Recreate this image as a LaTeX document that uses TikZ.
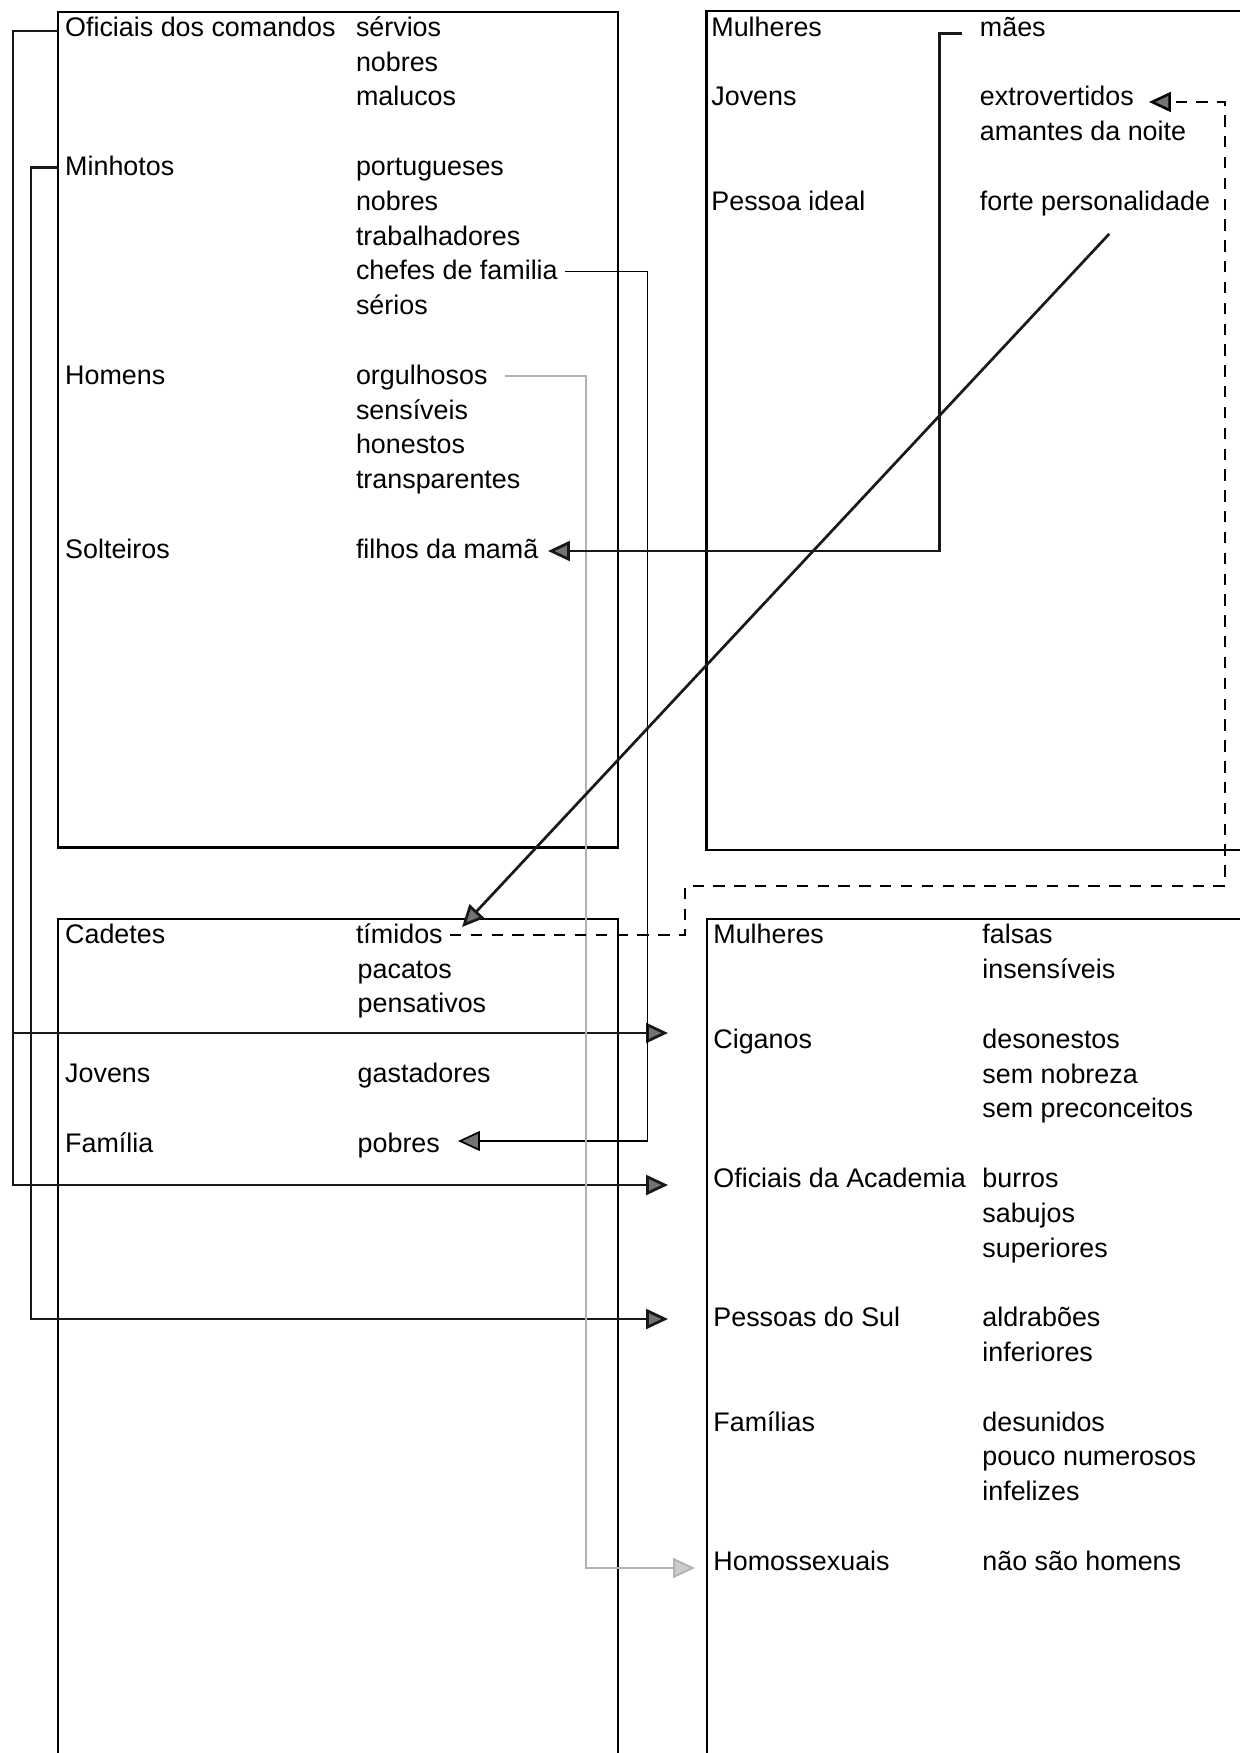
\documentclass[tikz,border=0pt]{standalone}
\usepackage{fontspec}
\setmainfont{Liberation Sans}
\usetikzlibrary{arrows.meta,calc}
\begin{document}
\begin{tikzpicture}[x=0.48pt,y=-0.48pt,
  lbl/.style={anchor=west, inner xsep=3.26pt, inner ysep=0pt, text height=10pt, text depth=2pt, font=\fontsize{12.9}{15}\selectfont},
  box/.style={draw=black, line width=1.2pt},
  tip/.style={-{Triangle[length=10.5pt,width=9.5pt,fill=black!55]}},
  conn/.style={draw=black!90, line width=1.3pt, tip},
  thinconn/.style={draw=black, line width=0.8pt, tip},
  grayconn/.style={draw=gray!60, line width=0.9pt, -{Triangle[length=10.5pt,width=9.5pt,fill=gray!40]}},
  dashconn/.style={draw=black, line width=1.2pt, dash pattern=on 5.5pt off 4.5pt, tip}]
\useasboundingbox (0,0) rectangle (1240,1753);
\clip (0,0) rectangle (1240,1753);

% boxes
\draw[box] (58,12) rectangle (618,847.5);
\draw[box] (706.7,11) rectangle (1300,849.8);
\draw[box] (58,919) rectangle (618,1800);
\draw[box] (707,919) rectangle (1300,1800);

% top-left box
\node[lbl] (ofc) at (58,28) {Oficiais dos comandos};
\node[lbl] (serv) at (348.8,28) {sérvios};
\node[lbl] (nob1) at (348.8,62.8) {nobres};
\node[lbl] (mal) at (348.8,97.6) {malucos};
\node[lbl] (minh) at (58,167.2) {Minhotos};
\node[lbl] (port) at (348.8,167.2) {portugueses};
\node[lbl] (nob2) at (348.8,202) {nobres};
\node[lbl] (trab) at (348.8,236.8) {trabalhadores};
\node[lbl] (chef) at (348.8,271.6) {chefes de familia};
\node[lbl] (ser) at (348.8,306.4) {sérios};
\node[lbl] (homens) at (58,376) {Homens};
\node[lbl] (org) at (348.8,376) {orgulhosos};
\node[lbl] (sens) at (348.8,410.8) {sensíveis};
\node[lbl] (hon) at (348.8,445.6) {honestos};
\node[lbl] (transp) at (348.8,480.4) {transparentes};
\node[lbl] (solt) at (58,550) {Solteiros};
\node[lbl] (fil) at (348.8,550) {filhos da mamã};

% top-right box
\node[lbl] (mulh1) at (704.2,28) {Mulheres};
\node[lbl] (mae) at (972.7,28) {mães};
\node[lbl] (jov1) at (704.2,97.6) {Jovens};
\node[lbl] (ext) at (972.7,97.6) {extrovertidos};
\node[lbl] (amn) at (972.7,132.4) {amantes da noite};
\node[lbl] (pid) at (704.2,202) {Pessoa ideal};
\node[lbl] (fp) at (972.7,202) {forte personalidade};

% bottom-left box
\node[lbl] (cad) at (58,935) {Cadetes};
\node[lbl] (tim) at (348.8,935) {tímidos};
\node[lbl] (pac) at (350.5,969.8) {pacatos};
\node[lbl] (pens) at (350.5,1004.6) {pensativos};
\node[lbl] (jov2) at (58,1074.2) {Jovens};
\node[lbl] (gast) at (350.5,1074.2) {gastadores};
\node[lbl] (fam) at (58,1143.8) {Família};
\node[lbl] (pob) at (350.5,1143.8) {pobres};

% bottom-right box
\node[lbl] (mulh2) at (706.2,935.5) {Mulheres};
\node[lbl] (fals) at (975.2,935.5) {falsas};
\node[lbl] (insens) at (975.2,970.3) {insensíveis};
\node[lbl] (cig) at (706.2,1039.9) {Ciganos};
\node[lbl] (deso) at (975.2,1039.9) {desonestos};
\node[lbl] (semnob) at (975.2,1074.7) {sem nobreza};
\node[lbl] (sempre) at (975.2,1109.5) {sem preconceitos};
\node[lbl] (aca) at (706.2,1179.1) {Oficiais da Academia};
\node[lbl] (burr) at (975.2,1179.1) {burros};
\node[lbl] (sab) at (975.2,1213.9) {sabujos};
\node[lbl] (sup) at (975.2,1248.7) {superiores};
\node[lbl] (sul) at (706.2,1318.3) {Pessoas do Sul};
\node[lbl] (aldr) at (975.2,1318.3) {aldrabões};
\node[lbl] (inf) at (975.2,1353.1) {inferiores};
\node[lbl] (fams) at (706.2,1422.7) {Famílias};
\node[lbl] (desu) at (975.2,1422.7) {desunidos};
\node[lbl] (pouco) at (975.2,1457.5) {pouco numerosos};
\node[lbl] (infel) at (975.2,1492.3) {infelizes};
\node[lbl] (homo) at (706.2,1561.9) {Homossexuais};
\node[lbl] (nsh) at (975.2,1561.9) {não são homens};

% arrow end points
\coordinate (cig-in) at (668,1033);
\coordinate (aca-in) at (668,1185);
\coordinate (sul-in) at (668,1319);
\coordinate (hom-in) at (695,1568);
\coordinate (pob-in) at (458,1141);
\coordinate (fil-in) at (548,551);
\coordinate (tim-in) at (462,927);
\coordinate (ext-in) at (1149,102);

% connectors
\draw[conn] ([yshift=-1.5pt]ofc.west) -- ++(-45,0) |- (aca-in);
\draw[conn] ([yshift=-1.5pt]ofc.west) -- ++(-45,0) |- (cig-in);
\draw[conn] (minh.west) -- ++(-27,0) |- (sul-in);
\draw[thinconn] (chef.east) -- ++(82.5,0) |- (pob-in);
\draw[grayconn] ([xshift=5pt]org.east) -- ++(81,0) |- (hom-in);
\draw[conn] ([xshift=-5.3pt,yshift=-2.5pt]mae.west) -- ++(-22.5,0) |- (fil-in);
\draw[conn] ($(fp.south west)+(136.5,19)$) -- (tim-in);
\draw[dashconn] (tim.east) -- ++(235,0) -- ++(0,-49) -- ++(540,0) |- (ext-in);
\end{tikzpicture}
\end{document}
